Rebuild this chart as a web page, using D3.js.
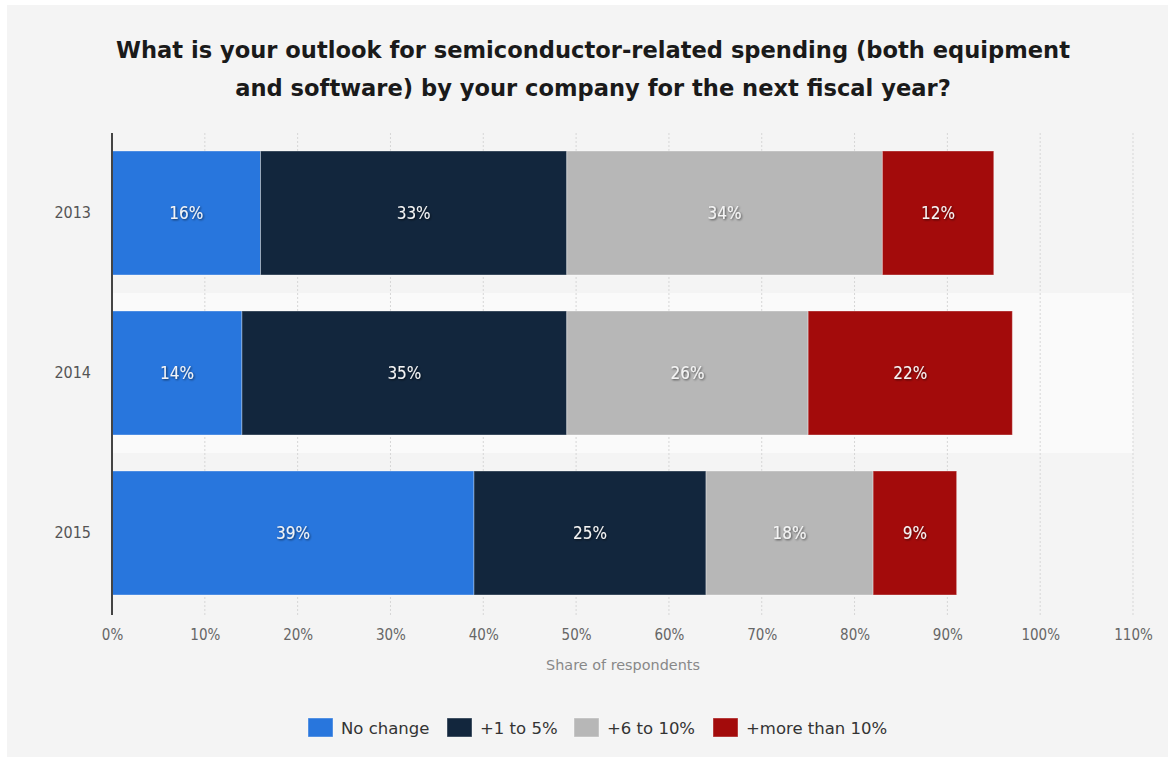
<!DOCTYPE html>
<html>
<head>
<meta charset="utf-8">
<script src="https://cdn.jsdelivr.net/npm/d3@7"></script>
<style>
  html, body { margin: 0; padding: 0; background: #ffffff; }
  svg { display: block; }
</style>
</head>
<body>
<svg id="chart" width="1175" height="762"></svg>
<script>
// Survey answers per year, in percent of respondents
const years = ["2013", "2014", "2015"];
const seriesNames = ["No change", "+1 to 5%", "+6 to 10%", "+more than 10%"];
const noChange = [16, 14, 39];
const plus1to5 = [33, 35, 25];
const plus6to10 = [34, 26, 18];
const moreThan10 = [12, 22, 9];
const tickValues = [0, 10, 20, 30, 40, 50, 60, 70, 80, 90, 100, 110];
const colors = ["#2876dd", "#12263d", "#b7b7b7", "#a30b0b"];

const rows = years.map((y, i) => ({
  year: y,
  "No change": noChange[i],
  "+1 to 5%": plus1to5[i],
  "+6 to 10%": plus6to10[i],
  "+more than 10%": moreThan10[i]
}));

const svg = d3.select("#chart");

// panel background
svg.append("rect").attr("x", 7).attr("y", 5).attr("width", 1161).attr("height", 752).attr("fill", "#f4f4f4");

const defs = svg.append("defs");
const f = defs.append("filter").attr("id", "shadow").attr("x", "-20%").attr("y", "-40%").attr("width", "140%").attr("height", "180%");
f.append("feDropShadow").attr("dx", 1).attr("dy", 1).attr("stdDeviation", 1).attr("flood-color", "#000").attr("flood-opacity", 0.6);

// title
const title = svg.append("text").attr("text-anchor", "middle")
  .attr("font-family", "DejaVu Sans, sans-serif").attr("font-weight", "bold")
  .attr("font-size", 22.6).attr("fill", "#1a1a1a");
title.append("tspan").attr("x", 593).attr("y", 58).text("What is your outlook for semiconductor-related spending (both equipment");
title.append("tspan").attr("x", 593).attr("y", 96).text("and software) by your company for the next fiscal year?");

const margin = { left: 112, top: 133 };
const x = d3.scaleLinear().domain([0, 110]).range([margin.left, 1133]);
const y = d3.scaleBand().domain(years).range([margin.top, 613]).paddingInner(0.225).paddingOuter(0.1125);

// highlighted band behind 2014
const step = y.step();
svg.append("rect")
  .attr("x", margin.left).attr("y", y("2014") - (step - y.bandwidth()) / 2)
  .attr("width", x(110) - margin.left).attr("height", step)
  .attr("fill", "#fafafa");

// dotted gridlines
svg.append("g").selectAll("line").data(tickValues.slice(1)).join("line")
  .attr("x1", d => x(d)).attr("x2", d => x(d))
  .attr("y1", margin.top).attr("y2", 615)
  .attr("stroke", "#d6d6d6").attr("stroke-width", 1).attr("stroke-dasharray", "2,2");

// stacked bars
const stack = d3.stack().keys(seriesNames)(rows);
const groups = svg.append("g").selectAll("g").data(stack).join("g")
  .attr("fill", (d, i) => colors[i]);
groups.selectAll("rect").data(d => d).join("rect")
  .attr("x", d => x(d[0]))
  .attr("y", d => y(d.data.year))
  .attr("width", d => x(d[1]) - x(d[0]))
  .attr("height", y.bandwidth())
  .attr("stroke", "rgba(255,255,255,0.35)").attr("stroke-width", 1);

// value labels
const labels = svg.append("g");
stack.forEach(layer => {
  layer.forEach(d => {
    labels.append("text")
      .attr("x", (x(d[0]) + x(d[1])) / 2)
      .attr("y", y(d.data.year) + y.bandwidth() / 2)
      .attr("dy", "0.35em")
      .attr("text-anchor", "middle")
      .attr("font-family", "DejaVu Sans Condensed, DejaVu Sans, sans-serif")
      .attr("font-size", 17).attr("fill", "#f4f4f4")
      .attr("filter", "url(#shadow)")
      .text((d[1] - d[0]) + "%");
  });
});

// left axis line
svg.append("line").attr("x1", margin.left).attr("x2", margin.left)
  .attr("y1", margin.top).attr("y2", 615).attr("stroke", "#444").attr("stroke-width", 2);

// x axis tick labels
const xAxis = d3.axisBottom(x).tickValues(tickValues).tickSize(0).tickPadding(0).tickFormat(d => d + "%");
const gx = svg.append("g").attr("transform", "translate(0,629)").call(xAxis);
gx.select(".domain").remove();
gx.selectAll("text").attr("font-family", "DejaVu Sans Condensed, DejaVu Sans, sans-serif")
  .attr("font-size", 15).attr("fill", "#666");

// y axis labels
const yAxis = d3.axisLeft(y).tickSize(0).tickPadding(0);
const gy = svg.append("g").attr("transform", "translate(91,0)").call(yAxis);
gy.select(".domain").remove();
gy.selectAll("text").attr("font-family", "DejaVu Sans Condensed, DejaVu Sans, sans-serif")
  .attr("font-size", 16).attr("fill", "#555");

// axis title
svg.append("text").attr("x", 623).attr("y", 670).attr("text-anchor", "middle")
  .attr("font-family", "DejaVu Sans, sans-serif").attr("font-size", 14.4).attr("fill", "#888")
  .text("Share of respondents");

// legend
const legendItems = [
  { name: seriesNames[0], sx: 308 },
  { name: seriesNames[1], sx: 447 },
  { name: seriesNames[2], sx: 574 },
  { name: seriesNames[3], sx: 713 }
];
const lg = svg.append("g");
legendItems.forEach((it, i) => {
  lg.append("rect").attr("x", it.sx).attr("y", 718).attr("width", 25).attr("height", 19)
    .attr("fill", colors[i]).attr("stroke", "rgba(255,255,255,0.4)");
  lg.append("text").attr("x", it.sx + 33).attr("y", 728).attr("dy", "0.35em")
    .attr("font-family", "DejaVu Sans, sans-serif")
    .attr("font-size", 16.5).attr("fill", "#333").text(it.name);
});
</script>
</body>
</html>
